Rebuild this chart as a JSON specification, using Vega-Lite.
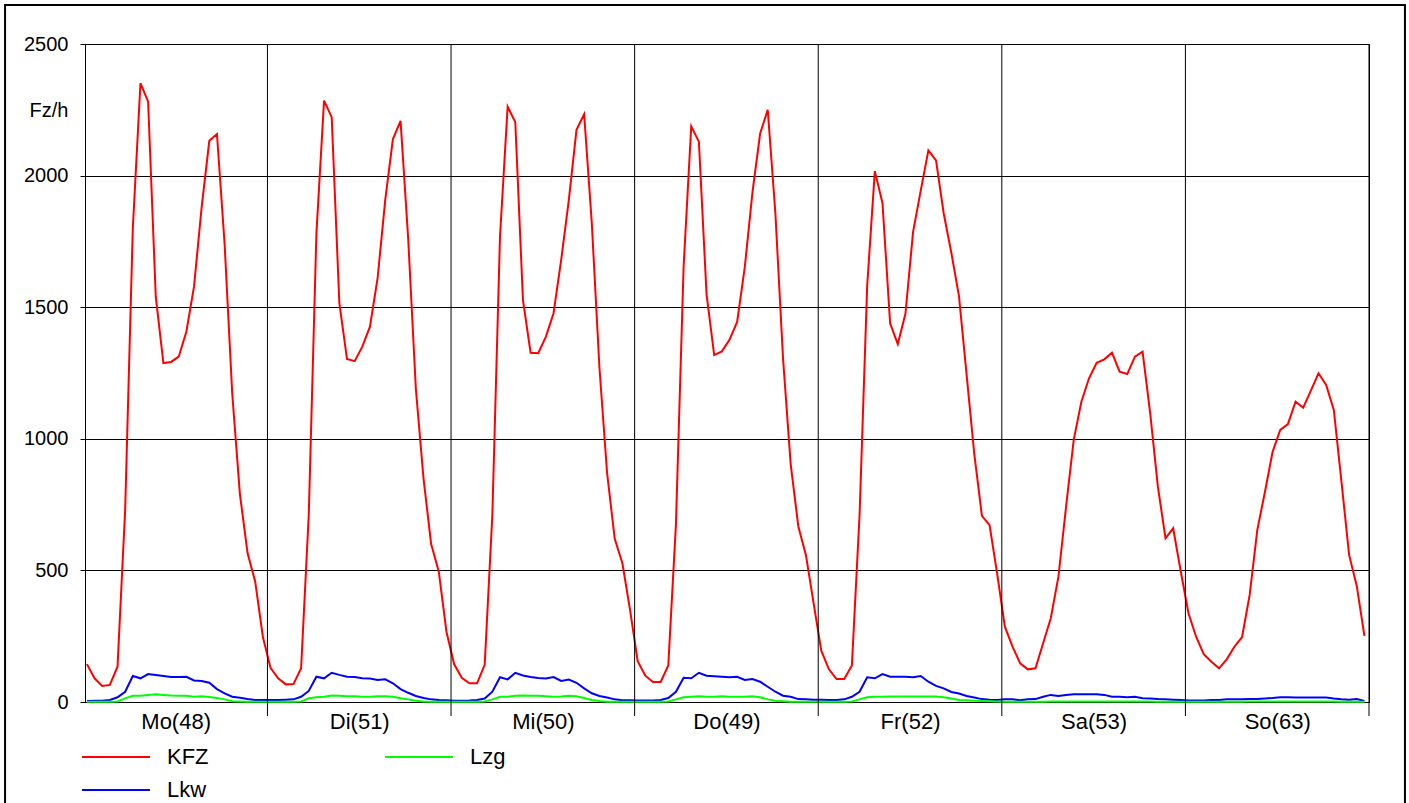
{
  "$schema": "https://vega.github.io/schema/vega-lite/v6.json",
  "width": 1284,
  "height": 658,
  "autosize": {"type": "none"},
  "padding": {"left": 85, "top": 44, "right": 40, "bottom": 101},
  "background": "white",
  "config": {
    "view": {"stroke": "#000", "strokeWidth": 1},
    "font": "Liberation Sans"
  },
  "datasets": {
    "days": [{"b": 23.6}, {"b": 47.6}, {"b": 71.6}, {"b": 95.6}, {"b": 119.6}, {"b": 143.6}, {"b": 167.6}],
    "t": [
      {"h":0,"KFZ":144,"Lkw":4,"Lzg":1},{"h":1,"KFZ":90,"Lkw":5,"Lzg":1},{"h":2,"KFZ":61,"Lkw":5,"Lzg":1},{"h":3,"KFZ":65,"Lkw":8,"Lzg":1},
      {"h":4,"KFZ":134,"Lkw":18,"Lzg":2},{"h":5,"KFZ":730,"Lkw":39,"Lzg":14},{"h":6,"KFZ":1800,"Lkw":99,"Lzg":24},{"h":7,"KFZ":2351,"Lkw":90,"Lzg":24},
      {"h":8,"KFZ":2281,"Lkw":106,"Lzg":27},{"h":9,"KFZ":1540,"Lkw":103,"Lzg":29},{"h":10,"KFZ":1288,"Lkw":99,"Lzg":27},{"h":11,"KFZ":1292,"Lkw":95,"Lzg":25},
      {"h":12,"KFZ":1312,"Lkw":95,"Lzg":24},{"h":13,"KFZ":1407,"Lkw":96,"Lzg":24},{"h":14,"KFZ":1578,"Lkw":82,"Lzg":20},{"h":15,"KFZ":1880,"Lkw":80,"Lzg":22},
      {"h":16,"KFZ":2132,"Lkw":73,"Lzg":19},{"h":17,"KFZ":2158,"Lkw":49,"Lzg":15},{"h":18,"KFZ":1740,"Lkw":33,"Lzg":10},{"h":19,"KFZ":1170,"Lkw":20,"Lzg":3},
      {"h":20,"KFZ":790,"Lkw":16,"Lzg":2},{"h":21,"KFZ":566,"Lkw":11,"Lzg":1},{"h":22,"KFZ":457,"Lkw":8,"Lzg":1},{"h":23,"KFZ":248,"Lkw":8,"Lzg":1},
      {"h":24,"KFZ":130,"Lkw":8,"Lzg":1},{"h":25,"KFZ":90,"Lkw":8,"Lzg":1},{"h":26,"KFZ":67,"Lkw":9,"Lzg":1},{"h":27,"KFZ":68,"Lkw":10,"Lzg":1},
      {"h":28,"KFZ":128,"Lkw":20,"Lzg":2},{"h":29,"KFZ":710,"Lkw":42,"Lzg":14},{"h":30,"KFZ":1780,"Lkw":96,"Lzg":18},{"h":31,"KFZ":2285,"Lkw":90,"Lzg":20},
      {"h":32,"KFZ":2222,"Lkw":111,"Lzg":25},{"h":33,"KFZ":1515,"Lkw":103,"Lzg":24},{"h":34,"KFZ":1303,"Lkw":96,"Lzg":22},{"h":35,"KFZ":1295,"Lkw":95,"Lzg":22},
      {"h":36,"KFZ":1350,"Lkw":90,"Lzg":20},{"h":37,"KFZ":1426,"Lkw":89,"Lzg":20},{"h":38,"KFZ":1610,"Lkw":84,"Lzg":22},{"h":39,"KFZ":1908,"Lkw":86,"Lzg":22},
      {"h":40,"KFZ":2139,"Lkw":71,"Lzg":20},{"h":41,"KFZ":2208,"Lkw":49,"Lzg":14},{"h":42,"KFZ":1760,"Lkw":35,"Lzg":10},{"h":43,"KFZ":1190,"Lkw":23,"Lzg":5},
      {"h":44,"KFZ":850,"Lkw":15,"Lzg":2},{"h":45,"KFZ":600,"Lkw":10,"Lzg":1},{"h":46,"KFZ":495,"Lkw":8,"Lzg":1},{"h":47,"KFZ":267,"Lkw":7,"Lzg":1},
      {"h":48,"KFZ":144,"Lkw":5,"Lzg":1},{"h":49,"KFZ":92,"Lkw":5,"Lzg":1},{"h":50,"KFZ":71,"Lkw":6,"Lzg":1},{"h":51,"KFZ":71,"Lkw":8,"Lzg":1},
      {"h":52,"KFZ":141,"Lkw":13,"Lzg":2},{"h":53,"KFZ":710,"Lkw":39,"Lzg":10},{"h":54,"KFZ":1768,"Lkw":94,"Lzg":20},{"h":55,"KFZ":2262,"Lkw":86,"Lzg":20},
      {"h":56,"KFZ":2203,"Lkw":111,"Lzg":24},{"h":57,"KFZ":1528,"Lkw":101,"Lzg":25},{"h":58,"KFZ":1327,"Lkw":95,"Lzg":24},{"h":59,"KFZ":1325,"Lkw":91,"Lzg":24},
      {"h":60,"KFZ":1388,"Lkw":89,"Lzg":22},{"h":61,"KFZ":1477,"Lkw":95,"Lzg":20},{"h":62,"KFZ":1680,"Lkw":80,"Lzg":21},{"h":63,"KFZ":1908,"Lkw":85,"Lzg":24},
      {"h":64,"KFZ":2174,"Lkw":73,"Lzg":22},{"h":65,"KFZ":2233,"Lkw":52,"Lzg":15},{"h":66,"KFZ":1820,"Lkw":33,"Lzg":8},{"h":67,"KFZ":1270,"Lkw":23,"Lzg":4},
      {"h":68,"KFZ":870,"Lkw":17,"Lzg":1},{"h":69,"KFZ":620,"Lkw":10,"Lzg":1},{"h":70,"KFZ":527,"Lkw":7,"Lzg":1},{"h":71,"KFZ":350,"Lkw":7,"Lzg":1},
      {"h":72,"KFZ":155,"Lkw":6,"Lzg":1},{"h":73,"KFZ":100,"Lkw":6,"Lzg":1},{"h":74,"KFZ":76,"Lkw":6,"Lzg":1},{"h":75,"KFZ":76,"Lkw":8,"Lzg":1},
      {"h":76,"KFZ":139,"Lkw":15,"Lzg":2},{"h":77,"KFZ":675,"Lkw":39,"Lzg":10},{"h":78,"KFZ":1652,"Lkw":92,"Lzg":18},{"h":79,"KFZ":2187,"Lkw":90,"Lzg":20},
      {"h":80,"KFZ":2129,"Lkw":111,"Lzg":22},{"h":81,"KFZ":1550,"Lkw":100,"Lzg":20},{"h":82,"KFZ":1318,"Lkw":98,"Lzg":20},{"h":83,"KFZ":1332,"Lkw":96,"Lzg":22},
      {"h":84,"KFZ":1376,"Lkw":94,"Lzg":20},{"h":85,"KFZ":1444,"Lkw":96,"Lzg":20},{"h":86,"KFZ":1652,"Lkw":84,"Lzg":20},{"h":87,"KFZ":1935,"Lkw":87,"Lzg":22},
      {"h":88,"KFZ":2159,"Lkw":77,"Lzg":18},{"h":89,"KFZ":2250,"Lkw":58,"Lzg":10},{"h":90,"KFZ":1857,"Lkw":39,"Lzg":5},{"h":91,"KFZ":1305,"Lkw":24,"Lzg":3},
      {"h":92,"KFZ":904,"Lkw":20,"Lzg":1},{"h":93,"KFZ":667,"Lkw":11,"Lzg":1},{"h":94,"KFZ":557,"Lkw":10,"Lzg":1},{"h":95,"KFZ":375,"Lkw":9,"Lzg":1},
      {"h":96,"KFZ":195,"Lkw":9,"Lzg":1},{"h":97,"KFZ":124,"Lkw":8,"Lzg":1},{"h":98,"KFZ":87,"Lkw":8,"Lzg":1},{"h":99,"KFZ":87,"Lkw":10,"Lzg":1},
      {"h":100,"KFZ":139,"Lkw":20,"Lzg":2},{"h":101,"KFZ":707,"Lkw":39,"Lzg":10},{"h":102,"KFZ":1581,"Lkw":94,"Lzg":18},{"h":103,"KFZ":2017,"Lkw":90,"Lzg":20},
      {"h":104,"KFZ":1896,"Lkw":106,"Lzg":20},{"h":105,"KFZ":1439,"Lkw":96,"Lzg":21},{"h":106,"KFZ":1360,"Lkw":96,"Lzg":21},{"h":107,"KFZ":1475,"Lkw":96,"Lzg":21},
      {"h":108,"KFZ":1786,"Lkw":94,"Lzg":21},{"h":109,"KFZ":1943,"Lkw":99,"Lzg":21},{"h":110,"KFZ":2096,"Lkw":77,"Lzg":21},{"h":111,"KFZ":2058,"Lkw":61,"Lzg":21},
      {"h":112,"KFZ":1857,"Lkw":52,"Lzg":18},{"h":113,"KFZ":1707,"Lkw":38,"Lzg":13},{"h":114,"KFZ":1542,"Lkw":32,"Lzg":8},{"h":115,"KFZ":1243,"Lkw":23,"Lzg":7},
      {"h":116,"KFZ":943,"Lkw":17,"Lzg":5},{"h":117,"KFZ":707,"Lkw":11,"Lzg":4},{"h":118,"KFZ":672,"Lkw":9,"Lzg":3},{"h":119,"KFZ":486,"Lkw":8,"Lzg":2},
      {"h":120,"KFZ":286,"Lkw":10,"Lzg":1},{"h":121,"KFZ":210,"Lkw":10,"Lzg":1},{"h":122,"KFZ":147,"Lkw":7,"Lzg":1},{"h":123,"KFZ":124,"Lkw":10,"Lzg":1},
      {"h":124,"KFZ":128,"Lkw":11,"Lzg":1},{"h":125,"KFZ":223,"Lkw":20,"Lzg":1},{"h":126,"KFZ":318,"Lkw":27,"Lzg":2},{"h":127,"KFZ":476,"Lkw":23,"Lzg":2},
      {"h":128,"KFZ":742,"Lkw":27,"Lzg":2},{"h":129,"KFZ":996,"Lkw":29,"Lzg":2},{"h":130,"KFZ":1141,"Lkw":29,"Lzg":2},{"h":131,"KFZ":1230,"Lkw":29,"Lzg":2},
      {"h":132,"KFZ":1289,"Lkw":29,"Lzg":2},{"h":133,"KFZ":1302,"Lkw":27,"Lzg":2},{"h":134,"KFZ":1327,"Lkw":20,"Lzg":2},{"h":135,"KFZ":1255,"Lkw":20,"Lzg":2},
      {"h":136,"KFZ":1246,"Lkw":18,"Lzg":2},{"h":137,"KFZ":1312,"Lkw":20,"Lzg":2},{"h":138,"KFZ":1331,"Lkw":14,"Lzg":2},{"h":139,"KFZ":1097,"Lkw":13,"Lzg":2},
      {"h":140,"KFZ":818,"Lkw":11,"Lzg":1},{"h":141,"KFZ":622,"Lkw":10,"Lzg":1},{"h":142,"KFZ":660,"Lkw":9,"Lzg":1},{"h":143,"KFZ":495,"Lkw":8,"Lzg":1},
      {"h":144,"KFZ":337,"Lkw":6,"Lzg":1},{"h":145,"KFZ":248,"Lkw":6,"Lzg":1},{"h":146,"KFZ":182,"Lkw":6,"Lzg":1},{"h":147,"KFZ":153,"Lkw":8,"Lzg":1},
      {"h":148,"KFZ":128,"Lkw":8,"Lzg":1},{"h":149,"KFZ":162,"Lkw":10,"Lzg":1},{"h":150,"KFZ":210,"Lkw":10,"Lzg":1},{"h":151,"KFZ":246,"Lkw":10,"Lzg":1},
      {"h":152,"KFZ":407,"Lkw":11,"Lzg":2},{"h":153,"KFZ":654,"Lkw":11,"Lzg":2},{"h":154,"KFZ":799,"Lkw":13,"Lzg":2},{"h":155,"KFZ":951,"Lkw":15,"Lzg":2},
      {"h":156,"KFZ":1034,"Lkw":18,"Lzg":2},{"h":157,"KFZ":1056,"Lkw":18,"Lzg":2},{"h":158,"KFZ":1141,"Lkw":17,"Lzg":2},{"h":159,"KFZ":1118,"Lkw":17,"Lzg":2},
      {"h":160,"KFZ":1183,"Lkw":17,"Lzg":2},{"h":161,"KFZ":1249,"Lkw":17,"Lzg":2},{"h":162,"KFZ":1205,"Lkw":17,"Lzg":2},{"h":163,"KFZ":1110,"Lkw":13,"Lzg":2},
      {"h":164,"KFZ":837,"Lkw":10,"Lzg":1},{"h":165,"KFZ":559,"Lkw":9,"Lzg":1},{"h":166,"KFZ":441,"Lkw":11,"Lzg":1},{"h":167,"KFZ":251,"Lkw":4,"Lzg":1}
    ]
  },
  "layer": [
    {
      "data": {"name": "t"},
      "transform": [{"fold": ["KFZ", "Lkw", "Lzg"], "as": ["s", "v"]}],
      "mark": {"type": "line", "strokeWidth": 2},
      "encoding": {
        "x": {"field": "h", "type": "quantitative",
          "scale": {"domain": [-0.25, 167.6], "nice": false, "zero": false},
          "axis": {"values": [11.6, 35.6, 59.6, 83.6, 107.6, 131.6, 155.6], "title": null,
            "labelExpr": "['Mo(48)','Di(51)','Mi(50)','Do(49)','Fr(52)','Sa(53)','So(63)'][floor(datum.value/24)]",
            "labelFlush": false, "labelFontSize": 22, "labelColor": "#000", "labelBaseline": "middle",
            "ticks": false, "tickSize": 0, "labelPadding": 19, "domainColor": "#000", "grid": false, "labelOverlap": false}},
        "y": {"field": "v", "type": "quantitative",
          "scale": {"domain": [0, 2500], "nice": false, "zero": false},
          "axis": {"values": [0, 500, 1000, 1500, 2000, 2500], "format": "d", "title": "Fz/h", "titleAngle": 0, "titleAlign": "right",
            "titleBaseline": "middle", "titleX": -17, "titleY": 66, "titleFontSize": 20, "titleFontWeight": "normal", "titleColor": "#000",
            "labelFontSize": 20, "labelColor": "#000", "labelPadding": 12, "tickSize": 5, "tickColor": "#000",
            "domainColor": "#000", "grid": true, "gridColor": "#000", "gridOpacity": 1, "labelOverlap": false}},
        "color": {"field": "s", "type": "nominal",
          "scale": {"domain": ["KFZ", "Lkw", "Lzg"], "range": ["#ff0000", "#0000ff", "#00ff00"]},
          "legend": {"title": null, "orient": "none", "direction": "vertical", "legendX": 20, "legendY": 702, "columns": 2,
            "symbolType": "M-5,0H5", "symbolSize": 185, "symbolStrokeWidth": 2, "labelFontSize": 22, "labelColor": "#000",
            "labelOffset": 40, "columnPadding": 171, "rowPadding": 11, "padding": 0}}
      }
    },
    {
      "data": {"name": "days"},
      "mark": {"type": "rule", "color": "#000", "strokeWidth": 1, "clip": false},
      "encoding": {
        "x": {"field": "b", "type": "quantitative",
          "scale": {"domain": [-0.25, 167.6], "nice": false, "zero": false},
          "axis": {"values": [11.6, 35.6, 59.6, 83.6, 107.6, 131.6, 155.6], "title": null,
            "labelExpr": "['Mo(48)','Di(51)','Mi(50)','Do(49)','Fr(52)','Sa(53)','So(63)'][floor(datum.value/24)]",
            "labelFlush": false, "labelFontSize": 22, "labelColor": "#000", "labelBaseline": "middle",
            "ticks": false, "tickSize": 0, "labelPadding": 19, "domainColor": "#000", "grid": false, "labelOverlap": false}},
        "y": {"datum": -53.2, "type": "quantitative",
          "scale": {"domain": [0, 2500], "nice": false, "zero": false},
          "axis": {"values": [0, 500, 1000, 1500, 2000, 2500], "format": "d", "title": "Fz/h", "titleAngle": 0, "titleAlign": "right",
            "titleBaseline": "middle", "titleX": -17, "titleY": 66, "titleFontSize": 20, "titleFontWeight": "normal", "titleColor": "#000",
            "labelFontSize": 20, "labelColor": "#000", "labelPadding": 12, "tickSize": 5, "tickColor": "#000",
            "domainColor": "#000", "grid": true, "gridColor": "#000", "gridOpacity": 1, "labelOverlap": false}},
        "y2": {"datum": 2500}
      }
    },
    {
      "data": {"values": [{}]},
      "mark": {"type": "rect", "filled": false, "color": "#000", "strokeWidth": 2, "clip": false},
      "encoding": {
        "x": {"datum": -10.7, "type": "quantitative",
          "scale": {"domain": [-0.25, 167.6], "nice": false, "zero": false},
          "axis": {"values": [11.6, 35.6, 59.6, 83.6, 107.6, 131.6, 155.6], "title": null,
            "labelExpr": "['Mo(48)','Di(51)','Mi(50)','Do(49)','Fr(52)','Sa(53)','So(63)'][floor(datum.value/24)]",
            "labelFlush": false, "labelFontSize": 22, "labelColor": "#000", "labelBaseline": "middle",
            "ticks": false, "tickSize": 0, "labelPadding": 19, "domainColor": "#000", "grid": false, "labelOverlap": false}},
        "x2": {"datum": 172.3},
        "y": {"datum": -430, "type": "quantitative",
          "scale": {"domain": [0, 2500], "nice": false, "zero": false},
          "axis": {"values": [0, 500, 1000, 1500, 2000, 2500], "format": "d", "title": "Fz/h", "titleAngle": 0, "titleAlign": "right",
            "titleBaseline": "middle", "titleX": -17, "titleY": 66, "titleFontSize": 20, "titleFontWeight": "normal", "titleColor": "#000",
            "labelFontSize": 20, "labelColor": "#000", "labelPadding": 12, "tickSize": 5, "tickColor": "#000",
            "domainColor": "#000", "grid": true, "gridColor": "#000", "gridOpacity": 1, "labelOverlap": false}},
        "y2": {"datum": 2648}
      }
    }
  ]
}
